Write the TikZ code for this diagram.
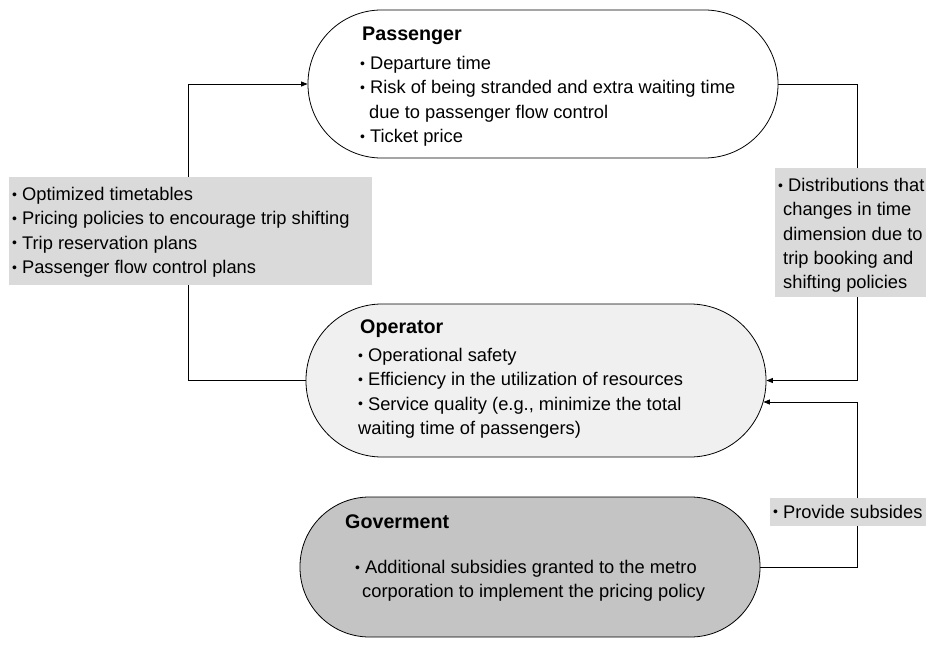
\documentclass[tikz,border=0pt]{standalone}
\usepackage{fontspec}
\setmainfont{Liberation Sans}
\usetikzlibrary{arrows.meta,calc}
\definecolor{opfill}{HTML}{F0F0F0}
\definecolor{govfill}{HTML}{C4C4C4}
\definecolor{boxfill}{HTML}{DADADA}
\newcommand{\bul}{{\fontsize{14}{14}\selectfont\raisebox{1.2pt}{•}}\hspace{5pt}}
\begin{document}
\begin{tikzpicture}[x=1pt,y=-1pt,
  actor/.style={draw=black, line width=0.8pt, rectangle, inner sep=0},
  txt/.style={anchor=north west, inner sep=0, align=left, font=\fontsize{18.3}{24.4}\selectfont},
  ttl/.style={anchor=base west, inner sep=0, font=\fontsize{19.7}{24}\selectfont\bfseries},
  gbox/.style={fill=boxfill, draw=none, inner sep=0, rectangle},
  conn/.style={line width=0.8pt, draw=black},
  arr/.style={conn, -{Triangle[length=6.5pt,width=5pt]}}
]
\useasboundingbox (0,0) rectangle (926,645);
% actors
\node[actor, fill=white, rounded corners=73.5pt, minimum width=470pt, minimum height=148pt] (pass) at (543,84) {};
\node[actor, fill=opfill, rounded corners=76pt, minimum width=460pt, minimum height=153pt] (oper) at (536,380.5) {};
\node[actor, fill=govfill, rounded corners=69.5pt, minimum width=460pt, minimum height=140pt] (gov) at (530,567) {};
% connectors
\coordinate (lx) at (188,0);
\coordinate (rx) at (857,0);
\coordinate (oparr) at ($(oper.east)+(-3,21.5)$);
\draw[arr] (oper.west) -- (oper.west -| lx) |- (pass.west);
\draw[arr] (pass.east) -- (pass.east -| rx) |- (oper.east);
\draw[arr] (gov.east) -- (gov.east -| rx) |- (oparr);
% gray label boxes
\node[gbox, minimum width=363pt, minimum height=108pt] (lbox) at (190.5,231) {};
\node[gbox, minimum width=151pt, minimum height=129pt] (rbox) at (850.5,232.5) {};
\node[gbox, minimum width=156pt, minimum height=28pt] (sbox) at (848,512) {};
% texts
\node[ttl] (passT) at (362,40) {Passenger};
\node[txt] (passB) at (360,52) {\strut\bul Departure time\\\bul Risk of being stranded and extra waiting time\\\hspace*{9pt}due to passenger flow control\\\bul Ticket price};
\node[ttl] (operT) at (360,333) {Operator};
\node[txt] (operB) at (358,344) {\strut\bul Operational safety\\\bul Efficiency in the utilization of resources\\\bul Service quality (e.g., minimize the total\\waiting time of passengers)};
\node[ttl] (govT) at (345,528) {Goverment};
\node[txt] (govB) at (355,556) {\strut\bul Additional subsidies granted to the metro\\\hspace*{7pt}corporation to implement the pricing policy};
\node[txt] (lboxT) at (12,183) {\strut\bul Optimized timetables\\\bul Pricing policies to encourage trip shifting\\\bul Trip reservation plans\\\bul Passenger flow control plans};
\node[txt] (rboxT) at (778,174) {\strut\bul Distributions that\\\hspace*{5pt}changes in time\\\hspace*{5pt}dimension due to\\\hspace*{5pt}trip booking and\\\hspace*{5pt}shifting policies};
\node[anchor=base west, inner sep=0, font=\fontsize{18.3}{24.4}\selectfont] (sboxT) at (773,518) {\bul Provide subsides};
\end{tikzpicture}
\end{document}
